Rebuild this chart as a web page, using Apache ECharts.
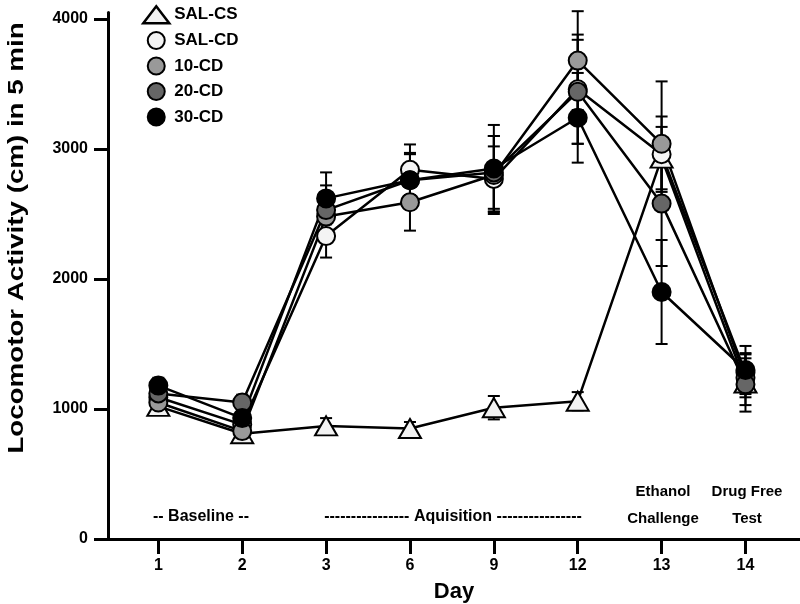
<!DOCTYPE html>
<html>
<head>
<meta charset="utf-8">
<script src="https://cdn.jsdelivr.net/npm/echarts@6/dist/echarts.min.js"></script>
<style>
  html, body { margin: 0; padding: 0; background: #fff; }
  #main { width: 800px; height: 604px; }
</style>
</head>
<body>
<div id="main"></div>
<script>
// test days (x axis)
var days = ['1', '2', '3', '6', '9', '12', '13', '14'];
var yTicks = [0, 1000, 2000, 3000, 4000];

// group means
var salCS = [1020, 810, 870, 850, 1010, 1060, 2930, 1200];
var salCD = [1090, 880, 2330, 2840, 2770, 3460, 2960, 1280];
var cd10  = [1050, 830, 2480, 2590, 2800, 3680, 3040, 1240];
var cd20  = [1120, 1050, 2530, 2760, 2820, 3440, 2580, 1190];
var cd30  = [1180, 930, 2620, 2760, 2850, 3240, 1900, 1300];

// SEM
var salCSErr = [60, 60, 60, 50, 90, 70, 240, 220];
var salCDErr = [60, 60, 165, 195, 250, 420, 290, 150];
var cd10Err  = [60, 55, 180, 218, 300, 380, 480, 150];
var cd20Err  = [60, 60, 190, 200, 280, 400, 480, 160];
var cd30Err  = [60, 60, 200, 210, 335, 345, 400, 185];

var FONT = 'Liberation Sans, Arial, sans-serif';

function pts(vals) {
    return vals.map(function (v, i) { return [i + 1, v]; });
}
function errRows(vals, err) {
    return vals.map(function (v, i) { return [i + 1, v - err[i], v + err[i]]; });
}

function errSeries(vals, err) {
    return {
        type: 'custom',
        silent: true,
        z: 1,
        data: errRows(vals, err),
        renderItem: function (params, api) {
            var lo = api.coord([api.value(0), api.value(1)]);
            var hi = api.coord([api.value(0), api.value(2)]);
            var w = 6;
            var st = { stroke: '#000', lineWidth: 2 };
            return {
                type: 'group',
                children: [
                    { type: 'line', shape: { x1: lo[0], y1: lo[1], x2: hi[0], y2: hi[1] }, style: st },
                    { type: 'line', shape: { x1: lo[0] - w, y1: lo[1], x2: lo[0] + w, y2: lo[1] }, style: st },
                    { type: 'line', shape: { x1: hi[0] - w, y1: hi[1], x2: hi[0] + w, y2: hi[1] }, style: st }
                ]
            };
        }
    };
}

function lineSeries(name, vals, color, symbol, size) {
    return {
        name: name,
        type: 'line',
        z: 3,
        data: pts(vals),
        symbol: symbol,
        symbolSize: size,
        showAllSymbol: true,
        lineStyle: { color: '#000', width: 2.5 },
        itemStyle: { color: color, borderColor: '#000', borderWidth: 2, opacity: 1 },
        emphasis: { disabled: true }
    };
}

function label(text, x, y, size) {
    return {
        type: 'text', x: x, y: y, silent: true,
        style: {
            text: text, font: 'bold ' + size + 'px ' + FONT, fill: '#000',
            align: 'center', verticalAlign: 'middle', lineHeight: 27
        }
    };
}

var chart = echarts.init(document.getElementById('main'));

chart.setOption({
    animation: false,
    backgroundColor: '#fff',
    grid: { left: 108, right: 0, top: 12.5, bottom: 65, outerBoundsMode: 'none' },
    legend: {
        orient: 'vertical',
        left: 137,
        top: 0,
        itemGap: 6.5,
        itemWidth: 26,
        itemHeight: 17,
        textStyle: { fontFamily: FONT, fontWeight: 'bold', fontSize: 17, color: '#000' },
        data: [
            { name: 'SAL-CS', icon: 'triangle', itemStyle: { borderWidth: 2.5 } },
            { name: 'SAL-CD', icon: 'circle' },
            { name: '10-CD', icon: 'circle' },
            { name: '20-CD', icon: 'circle' },
            { name: '30-CD', icon: 'circle' }
        ]
    },
    xAxis: {
        type: 'value',
        min: 0.4,
        max: 8.65,
        name: 'Day',
        nameLocation: 'middle',
        nameGap: 42,
        nameTextStyle: { fontFamily: FONT, fontWeight: 'bold', fontSize: 22, color: '#000' },
        splitLine: { show: false },
        axisLine: { lineStyle: { color: '#000', width: 3 } },
        axisTick: { customValues: [1, 2, 3, 4, 5, 6, 7, 8], length: 15, lineStyle: { color: '#000', width: 3 } },
        axisLabel: {
            customValues: [1, 2, 3, 4, 5, 6, 7, 8],
            margin: 19,
            fontFamily: FONT, fontWeight: 'bold', fontSize: 16, color: '#000',
            formatter: function (v) { return days[Math.round(v) - 1]; }
        }
    },
    yAxis: {
        type: 'value',
        min: 0,
        max: 4050,
        splitLine: { show: false },
        axisLine: { show: true, lineStyle: { color: '#000', width: 3 } },
        axisTick: { show: true, customValues: yTicks, length: 14, lineStyle: { color: '#000', width: 3 } },
        axisLabel: {
            customValues: yTicks,
            margin: 20,
            fontFamily: FONT, fontWeight: 'bold', fontSize: 16, color: '#000',
            formatter: function (v) { return String(v); }
        }
    },
    graphic: [
        {
            type: 'text', x: 17, y: 238, rotation: Math.PI / 2, scaleX: 1.26, silent: true,
            style: {
                text: 'Locomotor Activity (cm) in 5 min', font: 'bold 22px ' + FONT, fill: '#000',
                align: 'center', verticalAlign: 'middle'
            }
        },
        label('-- Baseline --', 201, 517, 16),
        label('---------------- Aquisition ----------------', 453, 517, 16),
        label('Ethanol\nChallenge', 663, 505, 15),
        label('Drug Free\nTest', 747, 505, 15)
    ],
    series: [
        errSeries(salCS, salCSErr),
        errSeries(salCD, salCDErr),
        errSeries(cd10, cd10Err),
        errSeries(cd20, cd20Err),
        errSeries(cd30, cd30Err),
        lineSeries('SAL-CS', salCS, '#f2f2f2', 'triangle', [22, 19]),
        lineSeries('SAL-CD', salCD, '#f4f4f4', 'circle', 18),
        lineSeries('10-CD', cd10, '#999999', 'circle', 18),
        lineSeries('20-CD', cd20, '#666666', 'circle', 18),
        lineSeries('30-CD', cd30, '#000000', 'circle', 18)
    ]
});
</script>
</body>
</html>
